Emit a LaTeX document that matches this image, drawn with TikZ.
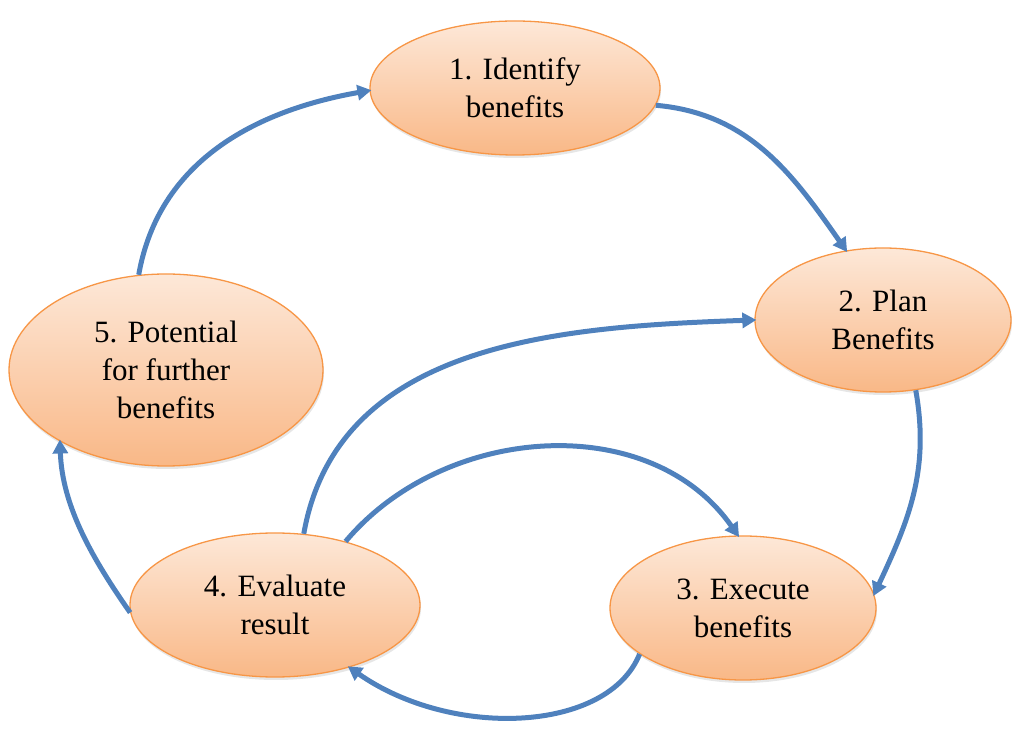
\documentclass[tikz,border=0pt]{standalone}
\usepackage{fontspec}
\setmainfont{Liberation Serif}
\usetikzlibrary{shapes.geometric,arrows.meta,shadows}
\definecolor{stepborder}{HTML}{F79646}
\definecolor{steptop}{HTML}{FDE8D8}
\definecolor{stepbottom}{HTML}{F9B887}
\definecolor{flowblue}{HTML}{4F81BD}
\tikzset{
  stepell/.style={ellipse, draw=stepborder, line width=1.3pt,
    top color=steptop, bottom color=stepbottom, inner sep=0pt,
    align=center, font=\fontsize{31}{38}\selectfont,
    drop shadow={opacity=0.2, shadow xshift=1pt, shadow yshift=-3pt}},
  flow/.style={draw=flowblue, line width=5pt,
    -{Triangle[length=14pt,width=15pt]}, shorten >=-2pt}
}
\begin{document}
\begin{tikzpicture}[x=1pt,y=1pt]
\useasboundingbox (0,0) rectangle (1012,731);
\node[stepell, minimum width=290pt, minimum height=134pt] (n1) at (515,643) {1. Identify\\benefits};
\node[stepell, minimum width=256pt, minimum height=144pt] (n2) at (883,411) {2. Plan\\Benefits};
\node[stepell, minimum width=266pt, minimum height=144pt] (n3) at (743,123) {3. Execute\\benefits};
\node[stepell, minimum width=290pt, minimum height=144pt] (n4) at (275,126) {4. Evaluate\\result};
\node[stepell, minimum width=314pt, minimum height=192pt] (n5) at (166,361) {5. Potential\\for further\\benefits};

\draw[flow] (n1.-7) to[out=-5,in=125] (n2.118);
\draw[flow] (n2.-65) to[out=-80,in=65] (n3.6);
\draw[flow] (n3.-156) .. controls +(-112:85) and +(-35:125) .. (n4.-40);
\draw[flow] (n4.-177) .. controls +(125:65) and +(-88:65) .. (n5.-146);
\draw[flow] (n5.106) to[out=80,in=190] (n1.181);
\draw[flow] (n4.68) to[out=80,in=182] (n2.180);
\draw[flow] (n4.42) to[out=50,in=125] (n3.94);
\end{tikzpicture}
\end{document}
